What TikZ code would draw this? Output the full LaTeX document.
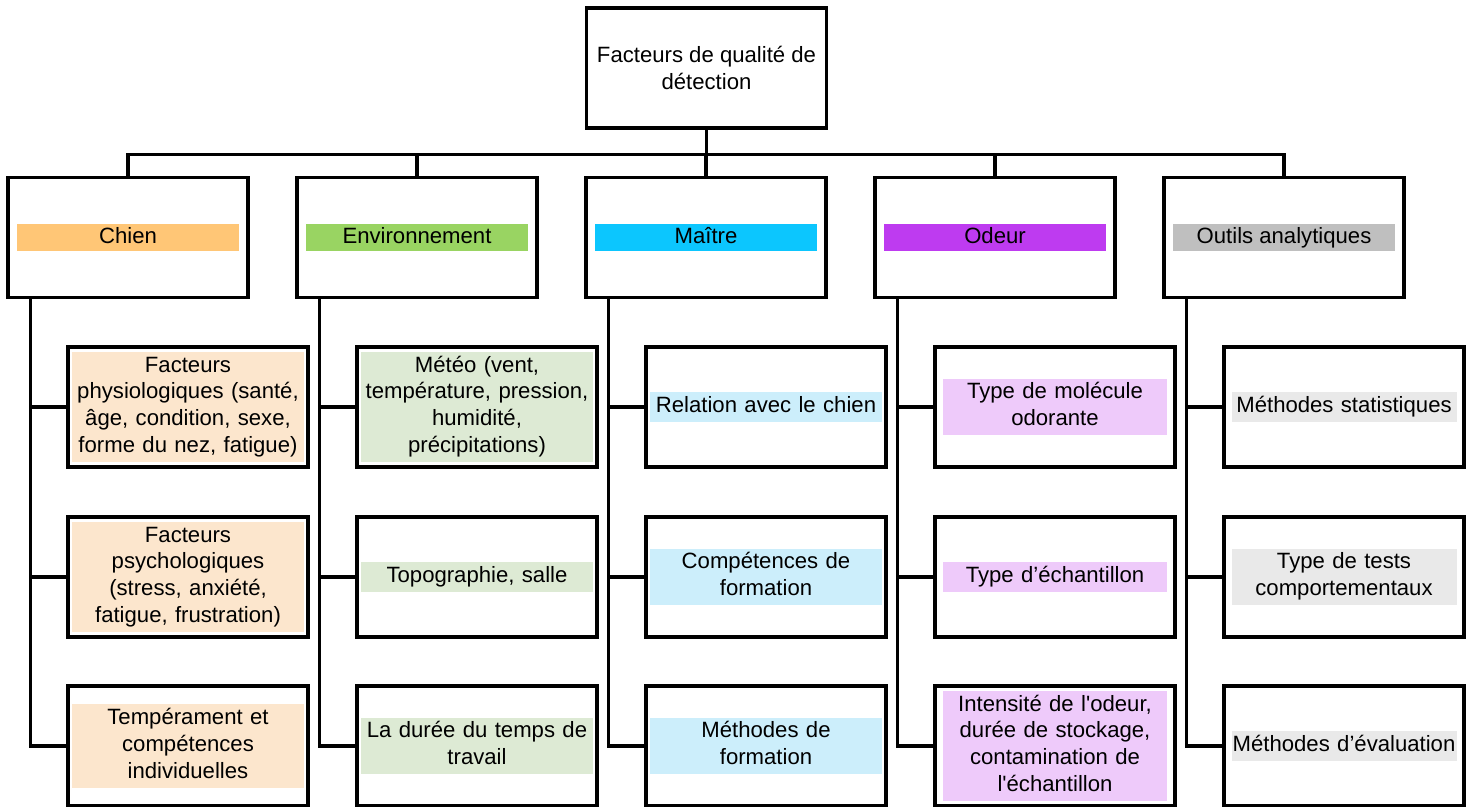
\documentclass[tikz,border=0pt]{standalone}
\usepackage{fontspec}
\setmainfont{Liberation Sans}[Ligatures=TeXOff]
\usepackage{xcolor}
\definecolor{chienbar}{HTML}{FFC676}
\definecolor{chienfill}{HTML}{FCE6CD}
\definecolor{envbar}{HTML}{99D462}
\definecolor{envfill}{HTML}{DDEAD4}
\definecolor{maitrebar}{HTML}{0CC6FE}
\definecolor{maitrefill}{HTML}{CCEEFB}
\definecolor{odeurbar}{HTML}{BE3BF0}
\definecolor{odeurfill}{HTML}{EECAFA}
\definecolor{outilsbar}{HTML}{BFBFBF}
\definecolor{outilsfill}{HTML}{E9E9E9}
\usetikzlibrary{positioning}
\usetikzlibrary{calc}

\tikzset{
	box/.style={draw, line width=2pt, fill=white, minimum width=4.8cm, minimum height=2.4cm, inner sep=0pt},
	bar/.style={minimum width=4.44cm, minimum height=0.56cm, inner sep=0pt, text height=9.3pt, text depth=2.7pt},
	item/.style={inner xsep=0pt, inner ysep=1pt, align=center, text width=4.64cm,
		execute at begin node=\strut, execute at end node=\strut},
	narrow/.style={text width=4.5cm},
	link/.style={line width=2pt},
}

\begin{document}
\begin{tikzpicture}[x=0.02cm, y=-0.02cm, font=\fontsize{12.6}{15.2}\selectfont]
		\useasboundingbox (0,0) rectangle (1473,807);
		
		%root
		\node[box, align=center] (root) at (706.5,68) {Facteurs de qualité de\\détection};
		
		%categories
		\foreach \c/\x/\txt in {chien/128/Chien, env/417/Environnement, maitre/706/Maître, odeur/995/Odeur, outils/1284/Outils analytiques}
		{
			\node[box] (\c) at (\x,237.5) {};
			\node[bar, fill=\c bar] (\c-l) at (\c) {\txt};
		}
		
		%chien
		\node[box] (chien1) at (188,407) {};
		\node[item, fill=chienfill] (chien1-t) at (chien1) {Facteurs\\physiologiques (santé,\\âge, condition, sexe,\\forme du nez, fatigue)};
		\node[box] (chien2) at (188,577) {};
		\node[item, fill=chienfill] (chien2-t) at (chien2) {Facteurs\\psychologiques\\(stress, anxiété,\\fatigue, frustration)};
		\node[box] (chien3) at (188,746) {};
		\node[item, fill=chienfill] (chien3-t) at (chien3) {Tempérament et\\compétences\\individuelles};
		
		%environnement
		\node[box] (env1) at (477,407) {};
		\node[item, fill=envfill] (env1-t) at (env1) {Météo (vent,\\température, pression,\\humidité,\\précipitations)};
		\node[box] (env2) at (477,577) {};
		\node[item, fill=envfill] (env2-t) at (env2) {Topographie, salle};
		\node[box] (env3) at (477,746) {};
		\node[item, fill=envfill] (env3-t) at (env3) {La durée du temps de\\travail};
		
		%maitre
		\node[box] (maitre1) at (766,407) {};
		\node[item, fill=maitrefill] (maitre1-t) at (maitre1) {Relation avec le chien};
		\node[box] (maitre2) at (766,577) {};
		\node[item, fill=maitrefill] (maitre2-t) at (maitre2) {Compétences de\\formation};
		\node[box] (maitre3) at (766,746) {};
		\node[item, fill=maitrefill] (maitre3-t) at (maitre3) {Méthodes de\\formation};
		
		%odeur
		\node[box] (odeur1) at (1055,407) {};
		\node[item, narrow, fill=odeurfill] (odeur1-t) at (odeur1) {Type de molécule\\odorante};
		\node[box] (odeur2) at (1055,577) {};
		\node[item, narrow, fill=odeurfill] (odeur2-t) at (odeur2) {Type d’échantillon};
		\node[box] (odeur3) at (1055,746) {};
		\node[item, narrow, fill=odeurfill] (odeur3-t) at (odeur3) {Intensité de l'odeur,\\durée de stockage,\\contamination de\\l'échantillon};
		
		%outils
		\node[box] (outils1) at (1344,407) {};
		\node[item, narrow, fill=outilsfill] (outils1-t) at (outils1) {Méthodes statistiques};
		\node[box] (outils2) at (1344,577) {};
		\node[item, narrow, fill=outilsfill] (outils2-t) at (outils2) {Type de tests\\comportementaux};
		\node[box] (outils3) at (1344,746) {};
		\node[item, narrow, fill=outilsfill] (outils3-t) at (outils3) {Méthodes d’évaluation};
		
		%root to categories
		\coordinate (bus) at ($(root.south)+(0,25)$);
		\draw[link] (root.south) -- (bus);
		\foreach \c in {chien,env,maitre,odeur,outils}
		\draw[link] (bus) -| (\c.north);
		
		%categories to items
		\foreach \c in {chien,env,maitre,odeur,outils}
		\foreach \k in {1,2,3}
		\draw[link] ($(\c.south west)+(24,0)$) |- (\c\k.west);
	\end{tikzpicture}
\end{document}
